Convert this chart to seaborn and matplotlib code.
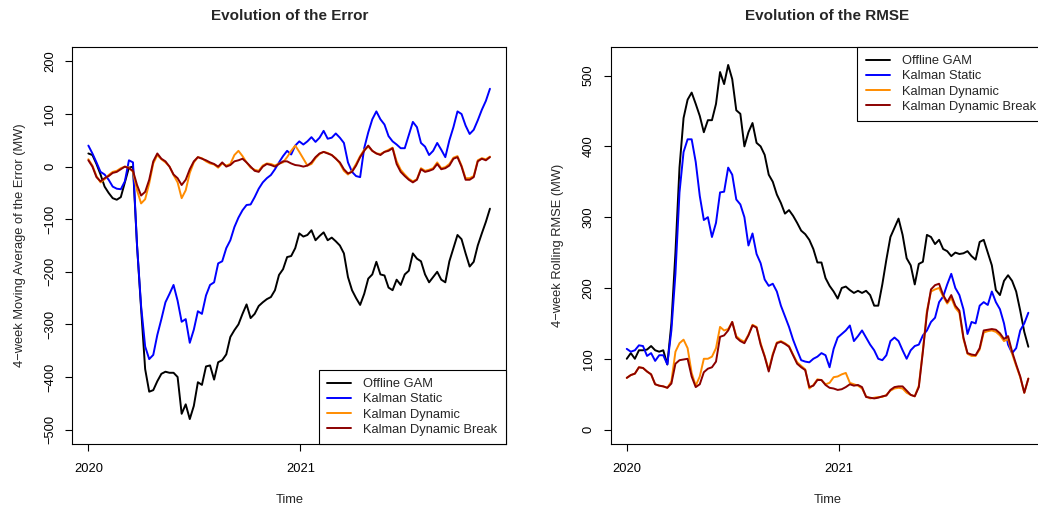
import numpy as np
import pandas as pd
import matplotlib
matplotlib.use("Agg")
import matplotlib.pyplot as plt
import matplotlib.dates as mdates
from matplotlib.lines import Line2D
import seaborn as sns

# Weekly sampling dates of the monitoring period
dates = pd.date_range("2020-01-01", periods=100, freq="7D")

models = ["Offline GAM", "Kalman Static", "Kalman Dynamic", "Kalman Dynamic Break"]
colors = ["black", "blue", "darkorange", "darkred"]

# 4-week moving average of the forecast error (MW)
err_gam = [25, 22, 5, -15, -38, -50, -60, -63, -58, -30, -2, 0, -150, -270,
           -385, -428, -425, -408, -394, -390, -392, -392, -400, -470,
           -452, -480, -455, -410, -415, -380, -378, -405, -372, -368,
           -357, -324, -311, -300, -280, -262, -288, -280, -265, -258,
           -252, -248, -235, -206, -195, -172, -170, -155, -127,
           -133, -130, -121, -140, -132, -125, -140, -135, -142, -150,
           -165, -210, -235, -250, -263, -242, -213, -205, -181, -205,
           -207, -230, -235, -215, -225, -205, -198, -165, -175, -180,
           -205, -220, -210, -200, -215, -220, -180, -155, -130, -138,
           -165, -190, -181, -150, -127, -105, -80]
err_static = [40, 25, 8, -10, -15, -25, -38, -42, -43, -28, 12, 8, -150, -265,
              -342, -366, -358, -320, -290, -258, -242, -225, -255, -295,
              -290, -335, -310, -275, -280, -245, -225, -220, -184, -180,
              -155, -140, -115, -97, -83, -73, -72, -58, -42, -30,
              -22, -16, -5, 8, 20,
              30, 23, 40, 48, 42, 48, 56, 47, 55, 68, 53, 55, 63, 55, 45,
              8, -10, -18, -20, 35, 65, 90, 105, 90, 80, 58, 48, 42, 35, 35,
              60, 85, 75, 45, 38, 22, 30, 45, 32, 18, 50, 75, 105, 100, 78,
              62, 70, 88, 108, 125, 148]
err_dynamic = [14, 2, -18, -30, -24, -16, -10, -8, -3, 0, -2, -10, -45, -70,
               -62, -32, 6, 22, 14, 8, 0, -16, -30, -60, -45, -12, 8, 18, 16,
               10, 6, 4, -2, 6, 2, 5, 22, 30, 20, 8, -2, -6, -8, 2, 6, 5, 2,
               6, 8, 18, 30, 40, 28, 15, 2, 5, 16, 24, 28, 26, 22, 16, 6, -8,
               -15, -8, 5, 20, 32, 38, 30, 25, 24, 28, 32, 36, 10, -6, -15,
               -23, -28, -24, -3, -8, -6, -3, 8, -3, -1, 5, 17, 20, 2, -22,
               -22, -18, 12, 16, 14, 19]
err_break = [12, 0, -20, -28, -22, -18, -12, -10, -5, 0, -3, -8, -35, -55,
             -48, -25, 10, 25, 15, 10, 0, -15, -22, -35, -25, -5, 10, 18, 15,
             12, 8, 5, 0, 8, 0, 3, 10, 12, 15, 8, 0, -8, -10, 0, 5, 3, 0, 5,
             10, 10, 6, 3, 2, 0, 2, 8, 18, 25, 28, 25, 22, 15, 8, -5, -13,
             -10, 2, 18, 30, 40, 30, 25, 22, 28, 30, 35, 5, -10, -18, -25,
             -30, -25, -5, -10, -8, -5, 5, -5, -3, 2, 15, 18, 0, -25, -25,
             -20, 10, 15, 12, 18]

# 4-week rolling RMSE (MW)
rmse_gam = [100, 108, 100, 112, 112, 113, 118, 112, 110, 112, 92, 150,
            250, 370, 440,
            466, 476, 460, 443, 420, 437, 437, 460, 505, 488, 515, 495, 451,
            446, 400, 420, 433, 405, 400, 388, 360, 350, 332, 320, 305, 310,
            302, 292, 281, 276, 268, 255, 236, 236, 214, 203,
            195, 185, 200, 202, 197, 193, 196, 193, 196, 190, 175, 175, 205,
            240, 272, 285, 298, 275, 242, 232, 205, 234, 237, 275, 272, 262,
            268, 255, 252, 245, 250, 248, 249, 252, 245, 240, 265, 268, 250,
            232, 197, 190, 210, 218, 210, 195, 168, 138, 117]
rmse_static = [114, 110, 112, 119, 118, 104, 108, 97, 105, 105, 92, 140,
               220, 335, 392, 410, 410,
               378, 330, 296, 300, 272, 292, 335, 336, 370, 360, 325, 318,
               300, 260, 277, 248, 235,
               212, 203, 206, 195, 175, 160, 145, 127, 112, 98, 96, 95, 100,
               103, 108, 105, 88,
               114, 130, 135, 140, 147, 125, 132, 140, 130, 120, 112, 100, 98,
               105, 125, 130, 125, 112, 100, 112, 118, 120, 133, 140, 152, 158,
               180, 188, 205, 220, 200, 190, 170, 135, 152, 150, 175, 180, 176,
               195, 180, 170, 150, 120, 108, 115, 140, 150, 165]
rmse_dynamic = [73, 77, 79, 88, 87, 82, 78, 64, 62, 61, 59, 68, 110, 122, 127,
                115, 80, 62, 75, 100, 100, 103, 115, 145, 140, 142, 152, 132,
                127, 124, 134, 148, 145, 122, 104, 84, 107, 123, 125, 122, 118,
                106, 95, 90, 85, 58, 63, 71, 70, 64, 66,
                74, 75, 78, 80, 66, 64, 62, 58, 47, 44, 45, 46, 46, 49, 55, 58,
                59, 58, 52, 49, 47, 62, 112, 168, 195, 198, 200, 188, 178, 186,
                172, 165, 128, 107, 104, 104, 113, 137, 139, 140, 138, 133, 125,
                128, 107, 90, 74, 52, 72]
rmse_break = [73, 77, 79, 88, 87, 82, 78, 64, 62, 61, 59, 65, 93, 98, 99, 100,
              75, 60, 64, 81, 86, 88, 96, 131, 133, 140, 152, 130, 125, 122,
              133, 147, 144, 120, 103, 82, 105, 122, 124, 121, 117, 105, 93,
              88, 84, 60, 62, 70, 70, 63, 59,
              58, 56, 57, 60, 64, 62, 63, 60, 46, 45, 44, 45, 47, 48, 56, 60,
              61, 61, 55, 49, 47, 60, 110, 164, 198, 204, 206, 190, 180, 190,
              175, 168, 130, 108, 106, 105, 115, 140, 141, 142, 141, 136, 128,
              132, 110, 92, 75, 52, 72]

err_ticks = [-500, -400, -300, -200, -100, 0, 100, 200]
rmse_ticks = [0, 100, 200, 300, 400, 500]
year_ticks = ["2020-01-01", "2021-01-01"]
year_labels = ["2020", "2021"]


def long_frame(series):
    return pd.DataFrame({
        "date": np.tile(dates, len(models)),
        "model": np.repeat(models, len(dates)),
        "value": np.concatenate([np.asarray(s, dtype=float) for s in series]),
    })


sns.set_theme(style="white")
plt.rcParams["font.family"] = ["Liberation Sans", "DejaVu Sans"]
plt.rcParams["axes.unicode_minus"] = True

W, H = 1038, 507
FS = 9.3
fig = plt.figure(figsize=(W / 100, H / 100), dpi=100)
fig.patch.set_facecolor("white")


def px_axes(left, top, right, bottom):
    return fig.add_axes([left / W, 1 - bottom / H, (right - left) / W, (bottom - top) / H])


ax1 = px_axes(72.3, 46.7, 506.0, 444.3)
ax2 = px_axes(610.7, 46.7, 1044.4, 444.3)

d0 = mdates.date2num(dates[0])
d1 = mdates.date2num(dates[-1])
span = d1 - d0

panels = [
    (ax1, [err_gam, err_static, err_dynamic, err_break], (-500, 200), err_ticks, "lower right"),
    (ax2, [rmse_gam, rmse_static, rmse_dynamic, rmse_break], (0, 520), rmse_ticks, "upper right"),
]

for ax, series, (lo, hi), yticks, loc in panels:
    df = long_frame(series)
    sns.lineplot(data=df, x="date", y="value", hue="model", hue_order=models,
                 palette=colors, estimator=None, sort=False, linewidth=1.4,
                 legend=False, ax=ax)
    ax.set_xlim(d0 - 0.04 * span, d1 + 0.04 * span)
    pad = 0.04 * (hi - lo)
    ax.set_ylim(lo - pad, hi + pad)
    ax.set_xlabel("")
    ax.set_ylabel("")
    ax.set_xticks([mdates.date2num(pd.Timestamp(t)) for t in year_ticks])
    ax.set_xticklabels(year_labels)
    ax.set_yticks(yticks)
    ax.set_yticklabels([str(v).replace("-", "\u2212") for v in yticks])
    ax.tick_params(axis="both", direction="out", length=5, width=0.8,
                   color="black", labelsize=FS, labelcolor="black",
                   bottom=True, left=True, top=False, right=False)
    ax.tick_params(axis="x", pad=8.6)
    ax.tick_params(axis="y", pad=6.6, labelrotation=90)
    for lab in ax.get_yticklabels():
        lab.set_va("center")
    for sp in ax.spines.values():
        sp.set_visible(True)
        sp.set_color("black")
        sp.set_linewidth(0.8)
    handles = [Line2D([0], [0], color=c, lw=1.4) for c in colors]
    leg = ax.legend(handles, models, loc=loc, borderaxespad=0, frameon=True,
                    fancybox=False, framealpha=1, edgecolor="black",
                    fontsize=FS, handlelength=1.86, handletextpad=0.93,
                    labelspacing=0.25, borderpad=0.65)
    leg.get_frame().set_linewidth(0.8)

# Titles and axis labels
fig.text(289.2 / W, 1 - 20.5 / H, "Evolution of the Error", ha="center",
         va="baseline", fontsize=11, fontweight="bold")
fig.text(827.5 / W, 1 - 20.5 / H, "Evolution of the RMSE", ha="center",
         va="baseline", fontsize=11, fontweight="bold")
fig.text(289.2 / W, 1 - 503 / H, "Time", ha="center", va="baseline", fontsize=FS)
fig.text(827.5 / W, 1 - 503 / H, "Time", ha="center", va="baseline", fontsize=FS)
fig.text(20 / W, 1 - 245.5 / H, "4\u2212week Moving Average of the Error (MW)",
         rotation=90, ha="center", va="center", fontsize=FS)
fig.text(557.7 / W, 1 - 245.5 / H, "4\u2212week Rolling RMSE (MW)",
         rotation=90, ha="center", va="center", fontsize=FS)

fig.savefig("out.png", dpi=100, facecolor="white")
